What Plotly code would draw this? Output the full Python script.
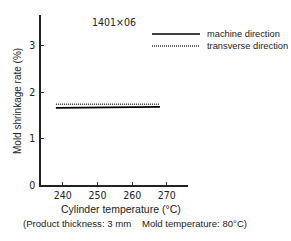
import plotly.graph_objects as go

temps = [238, 268]
machine = [1.66, 1.68]
transverse = [1.74, 1.74]
series_names = ["machine direction", "transverse direction"]
x_ticks = [240, 250, 260, 270]
y_ticks = [0, 1, 2, 3]

fig = go.Figure()
fig.add_trace(go.Scatter(x=temps, y=machine, mode="lines", name=series_names[0],
                         line=dict(color="black", width=1.8), showlegend=False))
fig.add_trace(go.Scatter(x=temps, y=transverse, mode="lines", name=series_names[1],
                         line=dict(color="#333333", width=1.6, dash="1px,1px"), showlegend=False))

narrow = "DejaVu Sans Condensed, Liberation Sans Narrow, sans-serif"
reg = "Liberation Sans, Arial, sans-serif"

fig.update_layout(
    width=291, height=241,
    margin=dict(l=41, r=103, t=15, b=56),
    paper_bgcolor="white", plot_bgcolor="white",
    xaxis=dict(range=[233.7, 276.1], tickvals=x_ticks, ticks="inside", ticklen=3,
               tickcolor="#333", showline=True, linecolor="#222", linewidth=1.5,
               ticklabelstandoff=0,
               showgrid=False, zeroline=False, tickfont=dict(family=narrow, size=10.5, color="#222")),
    yaxis=dict(range=[0, 3.66], tickvals=y_ticks, ticks="inside", ticklen=3,
               tickcolor="#333", showline=True, linecolor="#222", linewidth=1.5,
               ticklabelstandoff=2,
               showgrid=False, zeroline=False, tickfont=dict(family=narrow, size=10.5, color="#222")),
)

# legend drawn manually
fig.add_shape(type="line", xref="paper", yref="paper", x0=(152-41)/147, x1=(200-41)/147,
              y0=(185-34)/170, y1=(185-34)/170, line=dict(color="black", width=1.6))
fig.add_shape(type="line", xref="paper", yref="paper", x0=(152-41)/147, x1=(200-41)/147,
              y0=(185-46)/170, y1=(185-46)/170, line=dict(color="#333", width=1.4, dash="1px,1px"))
fig.add_annotation(text=series_names[0], xref="paper", yref="paper", x=(205-41)/147, y=(185-34)/170,
                   xanchor="left", yanchor="middle", showarrow=False, font=dict(family=reg, size=9.3, color="#222"))
fig.add_annotation(text=series_names[1], xref="paper", yref="paper", x=(205-41)/147, y=(185-46)/170,
                   xanchor="left", yanchor="middle", showarrow=False, font=dict(family=reg, size=9.3, color="#222"))

fig.add_annotation(text="1401×06", xref="paper", yref="paper", x=(114-41)/147, y=(185-22)/170,
                   xanchor="center", yanchor="middle", showarrow=False, font=dict(family=narrow, size=10.5, color="#222"))

fig.add_annotation(text="Mold shrinkage rate (%)", xref="paper", yref="paper", x=(17-41)/147, y=(185-101)/170,
                   xanchor="center", yanchor="middle", textangle=-90, showarrow=False,
                   font=dict(family=reg, size=10, color="#222"))
fig.add_annotation(text="Cylinder temperature (°C)", xref="paper", yref="paper", x=(121-41)/147, y=(185-209)/170,
                   xanchor="center", yanchor="middle", showarrow=False, font=dict(family=reg, size=10.5, color="#222"))
fig.add_annotation(text="(Product thickness: 3 mm    Mold temperature: 80°C)", xref="paper", yref="paper",
                   x=(21-41)/147, y=(185-223)/170, xanchor="left", yanchor="middle", showarrow=False,
                   font=dict(family=reg, size=9.6, color="#222"))

fig.write_html("out.html")
